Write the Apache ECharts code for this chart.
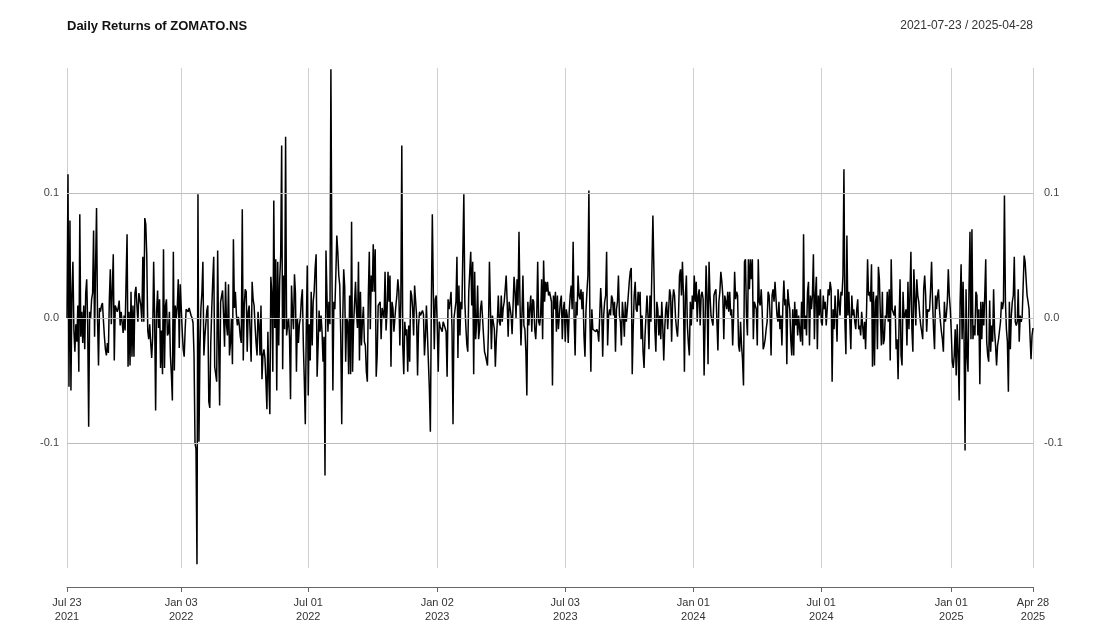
<!DOCTYPE html>
<html>
<head>
<meta charset="utf-8">
<script src="https://cdn.jsdelivr.net/npm/echarts@6/dist/echarts.min.js"></script>
<style>
html,body{margin:0;padding:0;background:#fff;}
#chart{width:1100px;height:629px;}
</style>
</head>
<body>
<div id="chart"></div>
<script>
// Daily returns of ZOMATO.NS, in thousandths (per-mille)
const seg2021a = [
0,115,-55,78,-58,20,45,-10,-27,-5,
-19,10,-43,83,-15,5,-20,10,-25,20,
31,-5,-87,5,0,15,20,70,-15,40,
88,0,-38,8,5,10,12,-2,-15,-25,
-30,-20,-28,15,39,-5,-6,51,-34,10,
10,5,8,14,-6,5,5,-12,2,-10,
30,67,-39,5,-38,21,-31,10,-31,20,
25,10,-3,20,21,10,-3,49,-3,80];
const seg2021b = [
75,50,-10,-17,-5,-20,-32,-15,45,0,
-74,5,22,-8,15,-40,-10,-45,55,-40,
10,15,-14,-12,5,-30,-45,-66,53,-42,
10,0,9,31,-24,27,27,-10,-25,-31,
-9,7,8,5,8,7,2,0,-4,-30,
-100,-105,-197,99,-99,-25,8,20,45,-30,
-15,-14,6,10,-67,-72,-20,7,30,49,
-39,-45,-51,54,-20,-70,13,12,22,2,
-23,29];
const seg2022a = [
-6,-14,27,-30,-20,0,-37,63,8,21,
3,-6,1,-6,-15,-20,87,-34,10,23,
21,-27,5,10,11,-35,29,15,10,-6,
-20,-30,5,-6,-30,10,-49,-30,-25,-32,
-50,-73,-11,-50,-77,33,20,-43,94,-8,
47,-58,45,-22,30,50,138,-41,34,-9,
145,-14,-6,0,-16,-65,26,5,-9,35,
20,-43,0,-20,-5,0,15,23,-21,-50,
-85,-8];
const seg2022b = [
42,-62,-5,-34,21,-22,13,21,40,51,
-47,-22,6,-11,2,-11,-35,-15,-126,54,
18,-11,13,-5,199,42,-58,13,7,34,
66,53,34,26,-14,-85,-3,39,25,-35,
0,-3,-45,18,-45,77,-43,-6,-6,29,
5,-8,45,-34,21,-22,-3,9,-19,-22,
-43,-51,18,53,-9,34,21,59,21,55,
-47,-30,10,10,13,-17,8,7,0,37,
-10,5,37];
const seg2022c = [
13,34,-39,13,8,-11,0,10,18,31,
21,-22,13,138,-22,-45,-3,-14,-9,-43,
-6,-35,22,18,8,-14,26,27,2,-46,
-6,5,2,3,6,3,-30,-15,10,10,
10,-57,-91,10,83,21,-25,15,18,-6,
-43,-3,-7,-8,-11,-3,-3,-8,-11,-47,
15,7,13,21,-9,-85,0,0,13,49,
-32,26,-14,13,7,7,99,13,-6,-21,
-27,21];
const seg2023a = [
22,53,10,45,-45,37,-17,-3,26,-17,
-9,8,14,0,-14,-27,-30,-30,-38,-9,
45,8,-25,2,1,-9,-39,-17,-3,18,
-3,-6,18,-3,8,13,23,34,13,-15,
13,8,2,-13,10,33,21,0,31,10,
69,13,-22,2,34,-6,-9,-27,-62,13,
-6,8,18,-11,15,13,-9,-17,0,45,
-3,-6,2,31,-17,46,13,29,21,29,
18,21];
const seg2023b = [
21,13,-54,18,7,21,-11,18,-9,2,
13,18,-17,7,13,-19,7,2,-20,5,
18,26,7,61,0,-30,13,2,34,18,
15,23,7,21,-14,-31,5,21,34,102,
0,-43,7,-9,-9,-9,-11,-9,-11,-19,
2,24,7,-31,2,13,18,53,-22,2,
7,2,18,15,2,13,-27,7,13,34,
2,-3,-22,13,2,-15,13,-3,7,18,
29,37];
const seg2023c = [
40,-45,-8,18,29,7,5,21,10,21,
-17,2,-27,-40,-14,2,18,2,-25,18,
-3,40,82,39,-9,-27,13,7,-14,2,
-17,13,-6,-34,-9,7,13,-9,7,23,
18,-19,13,23,18,0,-9,-15,2,34,
39,18,45,18,-43,18,34,-6,-20,-30,
13,-6,18,7,34,13,29,-3,18,23,
-6,18,21,15,-46,-3,42,18,-37,45,
18,2,2];
const seg2024a = [
-6,18,21,23,-3,-26,13,21,37,29,
18,-17,18,13,7,21,5,21,2,7,
-22,2,37,15,21,18,-22,-27,-3,-22,
-33,-54,45,47,2,-14,47,23,47,31,
47,-17,13,13,7,-22,47,13,10,23,
5,-25,-22,-17,-9,-3,21,18,2,-30,
18,23,13,29,29,2,-3,13,-9,2,
-22,10,30,10,15,-37,23,13,7,-17,
-30,7];
const seg2024b = [
-30,13,-6,7,-14,2,-9,-19,13,-22,
67,-9,2,-14,21,29,-22,18,7,18,
51,-17,18,33,-25,18,2,23,-3,-6,
18,7,13,-6,7,23,18,29,23,-51,
7,-9,18,2,-19,23,13,2,21,18,
34,119,-3,-29,66,2,21,-3,-25,18,
2,7,-3,-9,7,15,-9,-6,-14,5,
-6,-17,-3,-25,7,47,18,21,13,43,
-39,21];
const seg2024c = [
-38,13,18,-25,41,31,2,-22,21,-21,
-17,2,0,21,-3,23,-34,47,7,7,
2,10,-25,-17,-49,-3,31,-30,-38,21,
0,2,7,-22,29,-9,18,53,-9,-27,
39,39,-6,31,18,13,2,-6,-11,-17,
23,34,18,-11,7,5,7,23,45,13,
-9,-25,18,7,18,23,7,-3,-11,-17,
-27,13,-3,2,13,39,18,7,-11,-35,
-40,-30];
const seg2025 = [
-9,-46,-5,-27,-66,13,43,-17,29,-17,
-106,23,-30,-43,23,69,-17,71,-17,-6,
-14,21,18,-14,7,-53,13,-17,13,-6,
18,47,-19,-30,-35,14,-27,-6,-19,23,
-11,-22,-38,-22,-17,-17,-3,13,7,13,
98,13,-9,-19,-59,13,-25,2,13,18,
49,-3,-6,-3,23,-19,2,-3,1,0,
50,45,31,18,13,7,-15,-33,-14,-8];

const startDate = '2021-07-23';
const endDate = '2025-04-28';
const tickDates = ['2021-07-23','2022-01-03','2022-07-01','2023-01-02','2023-07-03','2024-01-01','2024-07-01','2025-01-01','2025-04-28'];
const yLevels = [-0.1, 0, 0.1];
const monthNames = ['Jan','Feb','Mar','Apr','May','Jun','Jul','Aug','Sep','Oct','Nov','Dec'];

const returnsPerMille = [].concat(seg2021a, seg2021b, seg2022a, seg2022b, seg2022c,
  seg2023a, seg2023b, seg2023c, seg2024a, seg2024b, seg2024c, seg2025);
const returns = returnsPerMille.map(v => v / 1000);

function weekdays(a, b) {
  const out = [];
  let d = new Date(a + 'T00:00:00Z');
  const e = new Date(b + 'T00:00:00Z');
  while (d <= e) {
    const w = d.getUTCDay();
    if (w !== 0 && w !== 6) out.push(d.toISOString().slice(0, 10));
    d = new Date(d.getTime() + 86400000);
  }
  return out;
}
const dates = weekdays(startDate, endDate);
const tickSet = new Set(tickDates);
const isTick = (i, v) => tickSet.has(v);

const chart = echarts.init(document.getElementById('chart'), null, {renderer: 'canvas'});
const fontFamily = '"Liberation Sans", Arial, sans-serif';

chart.setOption({
  animation: false,
  backgroundColor: '#ffffff',
  textStyle: {fontFamily: fontFamily},
  title: [
    {text: 'Daily Returns of ZOMATO.NS', left: 67, top: 20, padding: 0,
     textStyle: {fontSize: 13, fontWeight: 'bold', color: '#111', fontFamily: fontFamily}},
    {text: startDate + ' / ' + endDate, right: 67, top: 20, padding: 0,
     textStyle: {fontSize: 12, fontWeight: 'normal', color: '#333', fontFamily: fontFamily}}
  ],
  grid: {left: 67, right: 67, top: 68, bottom: 61, containLabel: false},
  xAxis: {
    type: 'category',
    data: dates,
    boundaryGap: false,
    offset: 19,
    axisLine: {show: true, onZero: false, lineStyle: {color: '#666', width: 1}},
    axisTick: {show: true, interval: isTick, length: 5, lineStyle: {color: '#666'}},
    axisLabel: {
      interval: isTick, color: '#333', fontSize: 11, lineHeight: 14, margin: 9,
      formatter: function (v) {
        const p = v.split('-');
        return monthNames[parseInt(p[1], 10) - 1] + ' ' + p[2] + '\n' + p[0];
      }
    },
    splitLine: {show: true, interval: isTick, lineStyle: {color: '#cfcfcf', width: 1}}
  },
  yAxis: [
    {type: 'value', position: 'left', min: -0.2, max: 0.2, interval: 0.1,
     axisLine: {show: false}, axisTick: {show: false}, splitLine: {show: false},
     axisLabel: {color: '#444', fontSize: 11, margin: 8,
       formatter: v => Math.abs(v) > 0.15 ? '' : v.toFixed(1)}},
    {type: 'value', position: 'right', min: -0.2, max: 0.2, interval: 0.1,
     axisLine: {show: false}, axisTick: {show: false}, splitLine: {show: false},
     axisLabel: {color: '#444', fontSize: 11, margin: 11,
       formatter: v => Math.abs(v) > 0.15 ? '' : v.toFixed(1)}}
  ],
  series: [
    {type: 'line', data: [], z: 1, silent: true,
     markLine: {silent: true, symbol: ['none', 'none'], label: {show: false},
       lineStyle: {color: '#bdbdbd', type: 'solid', width: 1},
       data: yLevels.map(v => ({yAxis: v}))}},
    {type: 'line', name: 'returns', data: returns, z: 3,
     showSymbol: false, symbol: 'none', sampling: null,
     lineStyle: {color: '#000', width: 1.5}}
  ]
});
</script>
</body>
</html>
